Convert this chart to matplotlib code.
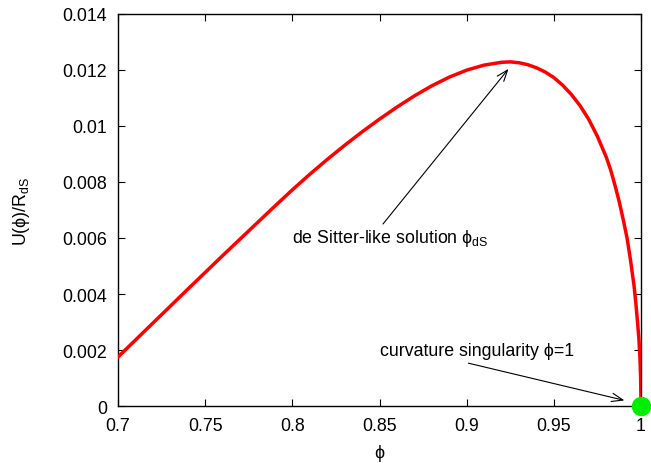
import matplotlib
matplotlib.use("Agg")
import matplotlib.pyplot as plt

plt.rcParams['font.family'] = ['Liberation Sans', 'DejaVu Sans']
plt.rcParams['mathtext.fontset'] = 'custom'
plt.rcParams['mathtext.rm'] = 'Liberation Sans'
plt.rcParams['mathtext.it'] = 'Liberation Sans'

# data
phi = [0.70, 0.72, 0.74, 0.76, 0.78, 0.79, 0.80, 0.81, 0.82, 0.83, 0.84, 0.85,
       0.86, 0.87, 0.88, 0.89, 0.90, 0.91, 0.92, 0.925, 0.93, 0.935, 0.94,
       0.945, 0.95, 0.955, 0.96, 0.965, 0.97, 0.975, 0.98, 0.9825, 0.985,
       0.9875, 0.99, 0.992, 0.994, 0.996, 0.997, 0.998, 0.9988, 0.9994,
       0.9998, 1.0]
U = [0.00175, 0.00296, 0.00417, 0.00537, 0.00655, 0.00714, 0.00772, 0.008275,
     0.008805, 0.00931, 0.00979, 0.010245, 0.010675, 0.011075, 0.011435,
     0.011745, 0.011995, 0.012175, 0.012275, 0.01229, 0.01226, 0.01219,
     0.01208, 0.01193, 0.01173, 0.01146, 0.01113, 0.01073, 0.01024, 0.00963,
     0.00890, 0.00845, 0.00790, 0.00730, 0.00660, 0.00600, 0.00520, 0.00430,
     0.00370, 0.00300, 0.00240, 0.00170, 0.00100, 0.0]

xticks = [0.7, 0.75, 0.8, 0.85, 0.9, 0.95, 1.0]
xticklabels = ['0.7', '0.75', '0.8', '0.85', '0.9', '0.95', '1']
yticks = [0, 0.002, 0.004, 0.006, 0.008, 0.01, 0.012, 0.014]
yticklabels = ['0', '0.002', '0.004', '0.006', '0.008', '0.01', '0.012', '0.014']

singular_point = (1.0, 0.0)
ds_label = (0.8, 0.006)
ds_arrow_tail = (0.852, 0.0065)
ds_arrow_head = (0.924, 0.01204)
sing_label = (0.85, 0.002)
sing_arrow_tail = (0.901, 0.00153)
sing_arrow_head = (0.9905, 0.0002)

fig = plt.figure(figsize=(6.51, 4.64), dpi=100)
ax = fig.add_axes([118/651, 1 - 407/464, (641-118)/651, (407-15)/464])

ax.plot(phi, U, color='#ff0000', lw=2.5, solid_joinstyle='round', zorder=3)
ax.plot([singular_point[0]], [singular_point[1]], 'o', color='#00ee00',
        markersize=13, clip_on=False, zorder=4)

ax.set_xlim(0.7, 1.0)
ax.set_ylim(0, 0.014)
ax.set_xticks(xticks)
ax.set_xticklabels(xticklabels)
ax.set_yticks(yticks)
ax.set_yticklabels(yticklabels)
ax.tick_params(direction='in', length=5, width=0.8, top=True, right=True,
               labelsize=12.8, pad=8, colors='black')
for s in ax.spines.values():
    s.set_linewidth(1.0)

ax.set_xlabel('ϕ', fontsize=12.8, labelpad=7)
ax.set_ylabel('U(ϕ)/R$_{\\mathrm{dS}}$', fontsize=12.8, labelpad=22)

ax.text(ds_label[0], ds_label[1], 'de Sitter-like solution ϕ$_{\\mathrm{dS}}$',
        fontsize=12.8, ha='left', va='center')
ax.annotate('', xy=ds_arrow_head, xytext=ds_arrow_tail,
            arrowprops=dict(arrowstyle='->,head_length=0.8,head_width=0.3',
                            lw=0.8, color='black', shrinkA=0, shrinkB=0))

ax.text(sing_label[0], sing_label[1], 'curvature singularity ϕ=1',
        fontsize=12.8, ha='left', va='center')
ax.annotate('', xy=sing_arrow_head, xytext=sing_arrow_tail,
            arrowprops=dict(arrowstyle='->,head_length=0.8,head_width=0.3',
                            lw=0.8, color='black', shrinkA=0, shrinkB=0))

fig.savefig('out.png', dpi=100)
